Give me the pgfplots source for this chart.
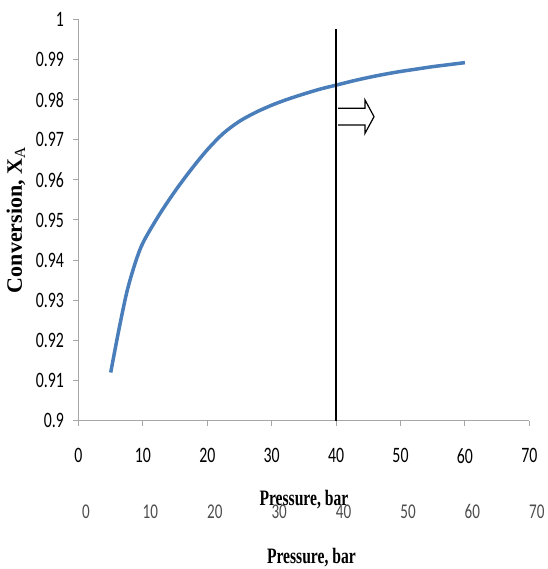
\documentclass[border=0pt]{standalone}
\usepackage{fontspec}
\usepackage{pgfplots}
\pgfplotsset{compat=1.18}
\setmainfont{Liberation Serif}
\newfontfamily\tickfont[FakeStretch=0.72]{Carlito}
\newfontfamily\labfont[FakeStretch=0.71]{Liberation Serif}
\definecolor{excelblue}{HTML}{4A7EBB}
\definecolor{axgray}{HTML}{A6A6A6}

\begin{document}
\begin{tikzpicture}
% main chart
\begin{axis}[
    at={(0,0)}, anchor=south west,
    scale only axis,
    width=450.8pt, height=401.4pt,
    xmin=0, xmax=70, ymin=0.9, ymax=1,
    axis lines*=left,
    axis line style={axgray, line width=1pt},
    tick style={axgray, line width=1pt},
    tick align=outside,
    major tick length=5pt,
    xtick={0,10,...,70},
    ytick={0.9,0.91,...,1.001},
    yticklabels={0.9,0.91,0.92,0.93,0.94,0.95,0.96,0.97,0.98,0.99,1},
    ticklabel style={font=\fontsize{22}{22}\selectfont\tickfont},
    /pgf/number format/assume math mode=true,
    yticklabel style={anchor=east, xshift=-6pt},
    xticklabel style={anchor=center, yshift=-30pt},
    xlabel={\labfont\bfseries Pressure, bar},
    xlabel style={at={(axis description cs:0.5,-0.1976)}, anchor=center,
        font=\fontsize{22}{22}\selectfont},
    ylabel={\bfseries Conversion, X\textsubscript{\mdseries A}},
    ylabel style={at={(axis description cs:-0.1386,0.5)}, anchor=center,
        font=\fontsize{22}{22}\selectfont},
    clip=false
]
\addplot[excelblue, line width=3.5pt, smooth, tension=0.5] coordinates {
  (5,0.912) (6.25,0.9225) (7.5,0.9320) (8.75,0.9390) (10,0.9443)
  (12.5,0.9512) (15,0.9572) (17.5,0.9626) (20,0.9675) (22.5,0.9716)
  (25,0.9746) (27.5,0.9768) (30,0.9786) (32.5,0.9801) (35,0.9814)
  (37.5,0.9826) (40,0.9836) (42.5,0.9846) (45,0.9855) (47.5,0.9863)
  (50,0.9870) (52.5,0.9876) (55,0.9882) (57.5,0.9887) (60,0.9892)
};
% vertical marker at 40 bar
\addplot[black, line width=1.4pt] coordinates {(40,0.9) (40,0.9976)};
% hollow arrow
\draw[black, line width=1.2pt, fill=white, line join=miter]
  (axis cs:40.3,0.97783) -- (axis cs:44.49,0.97783) -- (axis cs:44.49,0.97990)
  -- (axis cs:45.89,0.97574) -- (axis cs:44.49,0.97160) -- (axis cs:44.49,0.97367)
  -- (axis cs:40.3,0.97367);
\end{axis}
% duplicated x axis labels below
\begin{axis}[
    at={(7.5pt,0)}, anchor=south west,
    scale only axis,
    width=450.8pt, height=401.4pt,
    xmin=0, xmax=70, ymin=0.9, ymax=1,
    hide y axis,
    axis x line*=bottom,
    x axis line style={draw=none},
    xtick={0,10,...,70},
    xtick style={draw=none},
    ticklabel style={font=\fontsize{21}{21}\selectfont\tickfont, text=black!70},
    /pgf/number format/assume math mode=true,
    xticklabel style={anchor=center, yshift=-91pt},
    xlabel={\labfont\bfseries Pressure, bar},
    xlabel style={at={(axis description cs:0.5,-0.342)}, anchor=center,
        font=\fontsize{22}{22}\selectfont},
]
\end{axis}
\pgfresetboundingbox
\useasboundingbox (-78.5pt,-148.3pt) rectangle (468.5pt,420.7pt);
\end{tikzpicture}
\end{document}
